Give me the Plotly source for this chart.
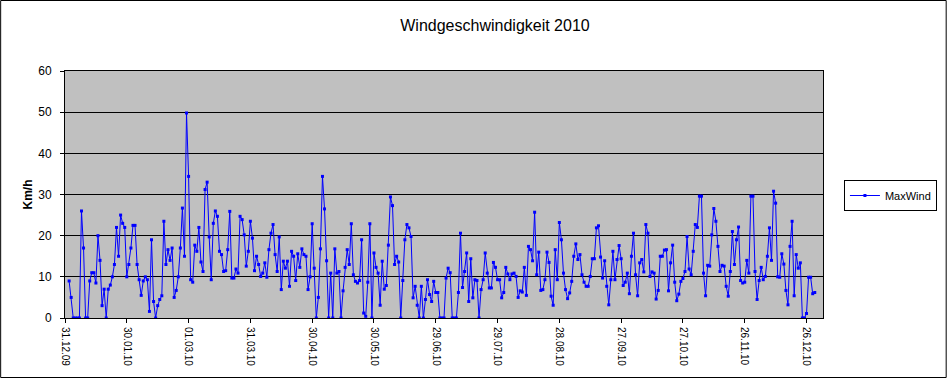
import plotly.graph_objects as go
import pandas as pd

# Daily max wind (km/h), consecutive days starting 02.01.2010
wind_part1 = [9, 5, 0, 0, 0, 0, 26, 17, 0, 0, 9, 11, 11, 8.5, 20, 14, 3, 7, 0, 7, 8, 10, 13, 22, 15, 25,
              23, 22, 10, 13, 17, 22.5, 22.5, 13, 9.3, 5.5, 9, 10, 9.3, 1.6, 19, 4, 0, 3, 4.5, 5.4, 23.5,
              13, 16.6, 14, 17, 5, 6.7, 10, 17, 26.7, 15, 49.8]
wind_part2 = [34.4, 9.3, 8.7, 17.7, 16.2, 22, 13.6, 11.3, 31.2, 33, 19.7, 9.3, 23, 26]
wind_part3 = [24.7, 16.2, 15.4, 11.3, 11.5, 16.6, 25.9, 9.7, 9.7, 11.9, 10.9, 24.7, 23.9, 20.2, 12.6, 16.2,
              23.5, 19.4, 11.5, 15, 13, 10.1, 10.9, 13.4, 9.9, 16.6, 20.6, 22.7, 15.4, 11.3, 19.7, 6.9,
              13.8, 12.1, 13.8, 7.7]
wind_part4 = [16.2, 15, 9.1, 15.6, 12.3, 16.8, 15.4, 15, 6.9, 10, 22.9, 12.1, 0, 5, 16.8, 34.4, 26.5, 13.9,
              0, 10.9, 0, 16.8, 10.9, 11.3, 0, 6.6, 12.3, 16.6, 13, 22.9, 10.5, 8.9, 8.5, 9.1, 19, 1.2]
wind_part5 = [0.4, 8.7, 22.9, 0, 15.8, 12.3, 10.9, 3.1, 13.8, 7, 7.9, 17.7, 29.4, 27.3, 13, 15, 13.6, 0,
              9.1, 19, 22.7, 21.9, 19.8, 4.9, 7.7, 3.1, 0, 7.7, 0, 4.5, 9.3, 5.7, 4, 8.9, 6.2, 6.2]
wind_part6 = [0, 0, 0, 9.7, 12.1, 11, 0, 0, 0, 6.2, 20.6, 7.4, 11.3, 15.8, 4, 14.4, 4.9, 9.3, 9.1, 0, 6.9,
              9.3, 15.8, 10.9, 7.3, 7.3, 13.5, 12.3, 9.3, 9.3, 4.9, 6.2, 12.3, 10.7, 9.3, 10.7]
wind_part7 = [10.9, 10.1, 5, 6.6, 6.3, 12.3, 5.5, 17.4, 16.6, 13.9, 25.7, 10.5, 16, 6.7, 6.9, 9.3, 16, 13.5,
              5.3, 3.1, 16.6, 9.3, 23.2, 19, 10.9, 6.9, 4.7, 6.1, 8.9, 15, 18, 14.2, 15.4, 10.5, 8.7, 7.7, 7.7]
wind_part8 = [10.1, 14.4, 14.4, 21.9, 22.4, 14.8, 9.7, 13.9, 7.7, 3.2, 9.3, 16.2, 9.3, 14.2, 17.6, 14.4,
              7.9, 8.7, 10.9, 5.9, 15, 20.6, 10.5, 5.4, 13.4, 14.2, 11.2, 22.7, 20.6, 10.1, 11.2, 10.9,
              4.6, 6.7, 15, 15]
wind_part9 = [16.5, 16.6, 6.6, 13.4, 17.7, 8.7, 4.2, 5.8, 8.9, 9.6, 11.3, 19.8, 11.9, 10.5, 16.2, 22.7, 22,
              29.6, 29.6, 10.9, 5.4, 12.8, 12.6, 20.2, 26.6, 23.5, 17.4, 11.3, 12.8, 12.6, 7.7, 5.3, 11.3,
              21, 13, 19, 22.1]
wind_part10 = [9.1, 8.5, 8.7, 14, 10.9, 29.6, 29.6, 11.3, 4.5, 9.1, 12.3, 9.3, 10.1, 15, 21.9, 14, 30.8,
               27.9, 10, 9.9, 15.6, 13.1, 6.7, 3.2, 17.4, 23.5, 5.4, 15.4, 12.1, 13.4, 0, 0, 1.1, 9.9, 9.9,
               5.9, 6.2]

tick_labels = ["31.12.09", "30.01.10", "01.03.10", "31.03.10", "30.04.10", "30.05.10", "29.06.10",
               "29.07.10", "28.08.10", "27.09.10", "27.10.10", "26.11.10", "26.12.10"]

values = (wind_part1 + wind_part2 + wind_part3 + wind_part4 + wind_part5 + wind_part6 +
          wind_part7 + wind_part8 + wind_part9 + wind_part10)
dates = pd.date_range("2010-01-02", periods=len(values), freq="D")
tick_dates = pd.date_range("2009-12-31", periods=len(tick_labels), freq="30D")

axis_start = pd.Timestamp("2009-12-31")
axis_end = axis_start + pd.Timedelta(days=368)

FONT = "Liberation Sans, Arial, sans-serif"
L, R, T, B = 65, 124, 71, 60
W, H = 949, 378
pw, ph = W - L - R, H - T - B

fig = go.Figure()
fig.add_trace(go.Scatter(
    x=dates, y=values, mode="lines+markers", name="MaxWind",
    line=dict(color="#0000FF", width=1),
    marker=dict(symbol="square", size=3, color="#0000FF"),
))

fig.update_layout(
    width=W, height=H,
    margin=dict(l=L, r=R, t=T, b=B),
    paper_bgcolor="white", plot_bgcolor="#C0C0C0",
    font=dict(family=FONT, color="black", size=12),
    title=dict(text="Windgeschwindigkeit 2010", x=495 / W, xanchor="center",
               y=1 - 25 / H, yanchor="middle", font=dict(size=16, family=FONT)),
    showlegend=True,
    legend=dict(x=(846 - L) / pw, y=(318 - 180) / ph, xanchor="left", yanchor="top",
                bgcolor="white", bordercolor="black", borderwidth=1,
                font=dict(size=11, family=FONT), itemwidth=30),
    xaxis=dict(type="date", range=[axis_start, axis_end], tickmode="array",
               tickvals=tick_dates, ticktext=tick_labels, tickangle=90,
               tickfont=dict(size=10), ticks="outside", ticklen=4, tickcolor="black",
               showline=True, linecolor="black", linewidth=1, mirror=True,
               showgrid=False, zeroline=False, automargin=False, ticklabelstandoff=2),
    yaxis=dict(range=[0, 60], dtick=10, tickfont=dict(size=12), ticks="outside",
               ticklen=4, tickcolor="black", showline=True, linecolor="black", linewidth=1,
               mirror=True, showgrid=True, gridcolor="black", gridwidth=1, zeroline=False,
               automargin=False, ticklabelstandoff=6,
               title=dict(text="<b>Km/h</b>", font=dict(size=12), standoff=3)),
)

fig.add_shape(type="rect", xref="paper", yref="paper",
              x0=(0.5 - L) / pw, x1=(W - 0.5 - L) / pw,
              y0=-(H - 0.5 - T - ph) / ph, y1=(ph + T - 0.5) / ph,
              line=dict(color="black", width=1), fillcolor="rgba(0,0,0,0)", layer="above")

fig.write_html("out.html", config={"displayModeBar": False},
               post_script="document.body.style.margin='0';")
